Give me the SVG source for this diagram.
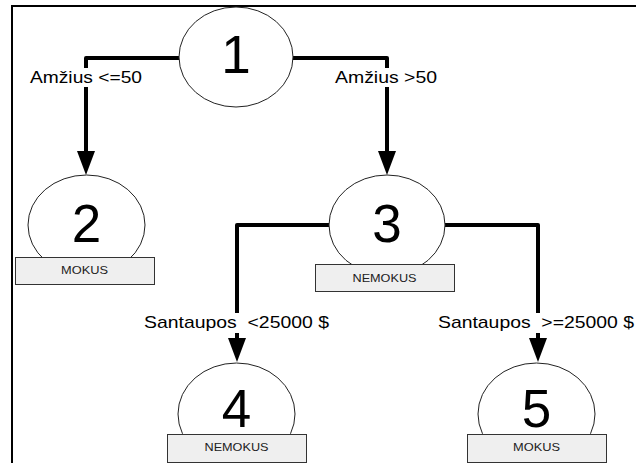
<svg xmlns="http://www.w3.org/2000/svg" width="636" height="463" viewBox="0 0 636 463">
  <style>
    .frame { stroke: #000; stroke-width: 2; fill: none; }
    .node ellipse { fill: #fff; stroke: #222; stroke-width: 1; }
    .node rect { fill: #efefef; stroke: #333; stroke-width: 1; }
    .num { font-family: "Liberation Sans", Arial, sans-serif; font-size: 53px; fill: #000; text-anchor: middle; }
    .tag { font-family: "Liberation Sans", Arial, sans-serif; font-size: 11.5px; fill: #222; text-anchor: middle; }
    .edge { fill: none; stroke: #000; stroke-width: 4; stroke-linejoin: round; }
    .lbl { font-family: "Liberation Sans", Arial, sans-serif; font-size: 17px; fill: #000; }
    .lblbg { fill: #fff; }
  </style>
  <defs>
    <marker id="arrow" markerUnits="userSpaceOnUse" markerWidth="24" markerHeight="18" refX="1" refY="9" orient="auto">
      <path d="M0,0 L24,9 L0,18 z" fill="#000"/>
    </marker>
  </defs>

  <!-- partial frame -->
  <path class="frame" d="M12,463 V6 H636"/>

  <!-- connectors -->
  <g id="connectors">
    <path class="edge" d="M179,58 H86 V152" marker-end="url(#arrow)"/>
    <path class="edge" d="M293,58 H387 V152" marker-end="url(#arrow)"/>
    <path class="edge" d="M329,225 H237 V339" marker-end="url(#arrow)"/>
    <path class="edge" d="M445,225 H538 V339" marker-end="url(#arrow)"/>
  </g>

  <!-- connector labels -->
  <g id="labels">
    <rect class="lblbg" x="28" y="68" width="116" height="19"/>
    <text class="lbl" x="30" y="83" textLength="112" lengthAdjust="spacingAndGlyphs">Amžius &lt;=50</text>
    <rect class="lblbg" x="333" y="68" width="106" height="19"/>
    <text class="lbl" x="335" y="83" textLength="102" lengthAdjust="spacingAndGlyphs">Amžius &gt;50</text>
    <rect class="lblbg" x="142" y="313" width="189" height="20"/>
    <text class="lbl" x="144" y="328" textLength="185" lengthAdjust="spacingAndGlyphs" xml:space="preserve">Santaupos  &lt;25000 $</text>
    <rect class="lblbg" x="436" y="313" width="200" height="20"/>
    <text class="lbl" x="438" y="328" textLength="196" lengthAdjust="spacingAndGlyphs" xml:space="preserve">Santaupos  &gt;=25000 $</text>
  </g>

  <!-- nodes -->
  <g id="node1" class="node">
    <ellipse cx="236" cy="57" rx="57" ry="50"/>
    <text class="num" x="236" y="73">1</text>
  </g>
  <g id="node2" class="node">
    <ellipse cx="86.5" cy="225" rx="58.5" ry="50"/>
    <rect x="15.5" y="257.5" width="139" height="27"/>
    <text class="num" x="86.5" y="242">2</text>
    <text class="tag" x="84.5" y="274" textLength="47" lengthAdjust="spacingAndGlyphs">MOKUS</text>
  </g>
  <g id="node3" class="node">
    <ellipse cx="387" cy="225" rx="58" ry="50"/>
    <rect x="315.5" y="264.5" width="139" height="27"/>
    <text class="num" x="387" y="242">3</text>
    <text class="tag" x="384.5" y="282" textLength="64" lengthAdjust="spacingAndGlyphs">NEMOKUS</text>
  </g>
  <g id="node4" class="node">
    <ellipse cx="236.5" cy="414" rx="58.5" ry="51"/>
    <rect x="167.5" y="434.5" width="139" height="28"/>
    <text class="num" x="236.5" y="427">4</text>
    <text class="tag" x="236.5" y="451" textLength="64" lengthAdjust="spacingAndGlyphs">NEMOKUS</text>
  </g>
  <g id="node5" class="node">
    <ellipse cx="536.5" cy="414" rx="58.5" ry="51"/>
    <rect x="467.5" y="434.5" width="139" height="28"/>
    <text class="num" x="536.5" y="427">5</text>
    <text class="tag" x="536.5" y="451" textLength="47" lengthAdjust="spacingAndGlyphs">MOKUS</text>
  </g>
</svg>
